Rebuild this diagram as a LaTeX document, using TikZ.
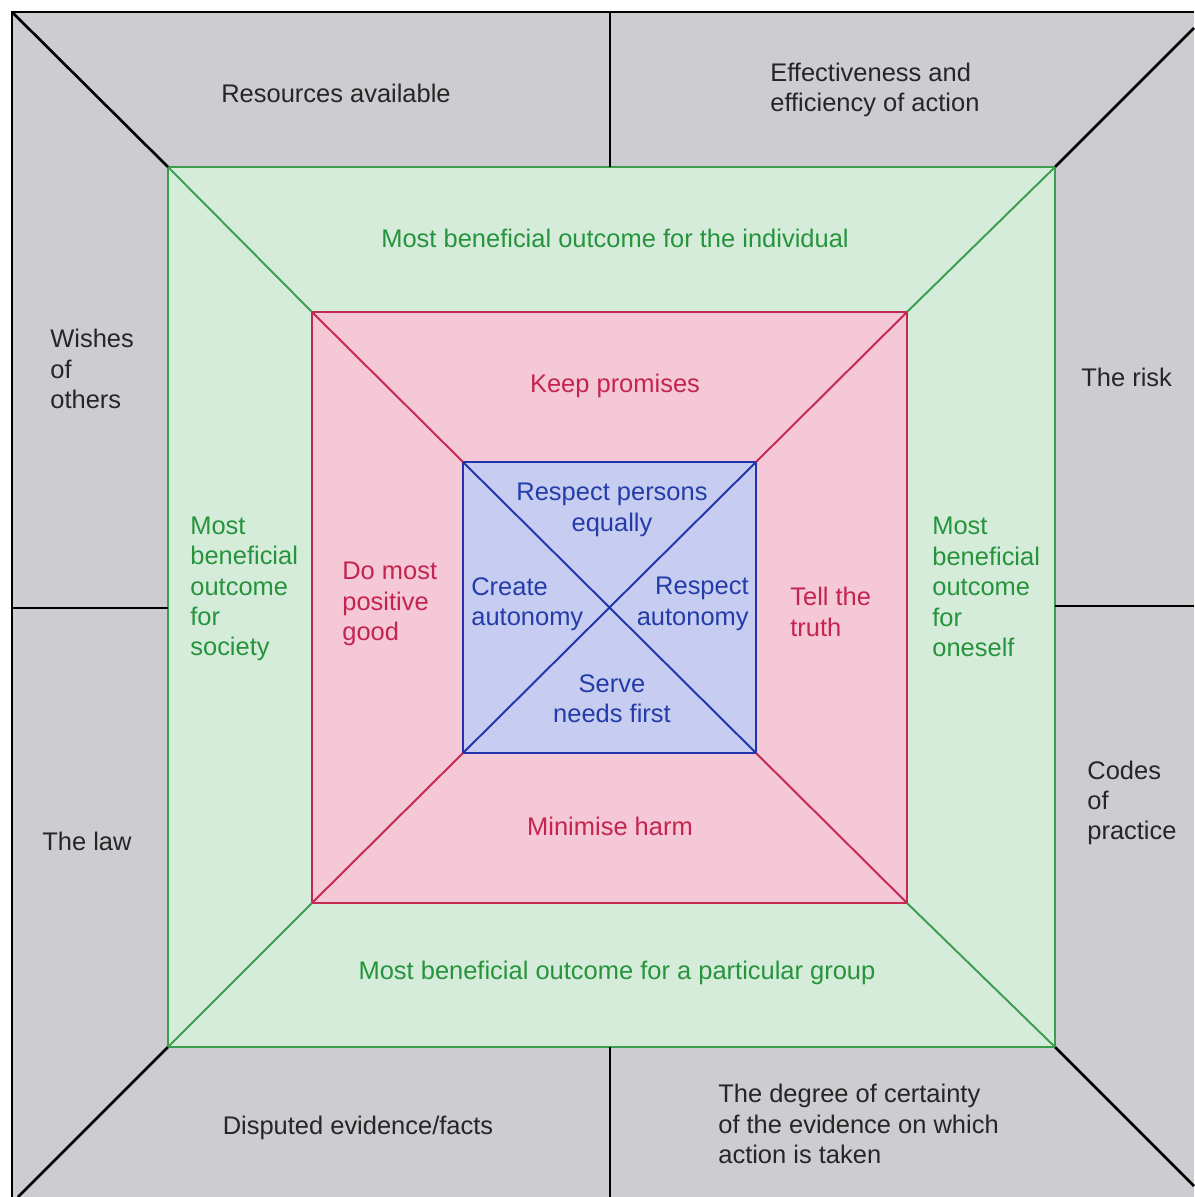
\documentclass[tikz,border=0pt]{standalone}
\usepackage{fontspec}
\setmainfont{Liberation Sans}
\definecolor{gridgray}{RGB}{205,205,209}
\definecolor{gfill}{RGB}{214,236,218}
\definecolor{gline}{RGB}{58,158,78}
\definecolor{gtext}{RGB}{38,148,60}
\definecolor{rfill}{RGB}{244,200,214}
\definecolor{rline}{RGB}{198,40,82}
\definecolor{rtext}{RGB}{196,36,80}
\definecolor{bfill}{RGB}{198,205,240}
\definecolor{bline}{RGB}{32,52,172}
\definecolor{btext}{RGB}{36,60,170}
\tikzset{
  lbl/.style={inner sep=0pt,font=\fontsize{14.5}{17.3}\selectfont},
  outlbl/.style={lbl,text=black!85},
  grlbl/.style={lbl,text=gtext},
  rdlbl/.style={lbl,text=rtext},
  bllbl/.style={lbl,text=btext}
}
\begin{document}
\begin{tikzpicture}[x=0.02cm,y=-0.02cm]
\useasboundingbox (0,0) rectangle (1194,1197);
\pgfmathsetmacro{\ow}{1.5}
\pgfmathsetmacro{\iw}{1.1}
% outer frame
\fill[gridgray] (12,12) rectangle (1194,1197);
\draw[line width=\ow pt] (1194,12) -- (12,12) -- (12,1197);
\coordinate (o1) at (12,12);
\coordinate (o2) at (1194,28);
\coordinate (o3) at (1194,1186);
\coordinate (o4) at (18,1197);
% nested squares
\coordinate (g1) at (168,167);
\coordinate (g2) at (1055,167);
\coordinate (g3) at (1055,1047);
\coordinate (g4) at (168,1047);
\coordinate (r1) at (312,312);
\coordinate (r2) at (907,312);
\coordinate (r3) at (907,903);
\coordinate (r4) at (312,903);
\coordinate (b1) at (463,462);
\coordinate (b2) at (756,462);
\coordinate (b3) at (756,753);
\coordinate (b4) at (463,753);
\filldraw[fill=gfill,draw=gline,line width=\iw pt](g1) rectangle (g3);
\filldraw[fill=rfill,draw=rline,line width=\iw pt](r1) rectangle (r3);
\filldraw[fill=bfill,draw=bline,line width=\iw pt](b1) rectangle (b3);
\foreach \i in {1,2,3,4}{
  \draw[line width=\ow pt](o\i)--(g\i);
  \draw[gline,line width=\iw pt](g\i)--(r\i);
  \draw[rline,line width=\iw pt](r\i)--(b\i);
}
\draw[bline,line width=\iw pt](b1)--(b3) (b2)--(b4);
% dividers
\draw[line width=\ow pt](610,12)--(610,167);
\draw[line width=\ow pt](610,1047)--(610,1197);
\draw[line width=\ow pt](12,608)--(168,608);
\draw[line width=\ow pt](1055,606)--(1194,606);
% outer labels
\node[outlbl] (res) at (336,93) {Resources available};
\node[outlbl,align=left,anchor=west] (eff) at (770,90) {Effectiveness and\\efficiency of action};
\node[outlbl,align=left,anchor=west] (wish) at (50,369) {Wishes\\of\\others};
\node[outlbl,anchor=west] (risk) at (1081,377) {The risk};
\node[outlbl,anchor=west] (law) at (42,841) {The law};
\node[outlbl,align=left,anchor=west] (codes) at (1087,803) {Codes\\of\\practice};
\node[outlbl] (disp) at (358,1128) {Disputed evidence/facts};
\node[outlbl,align=left,anchor=west] (cert) at (718,1124) {The degree of certainty\\of the evidence on which\\action is taken};
% green labels
\node[grlbl] (indiv) at (615,238) {Most beneficial outcome for the individual};
\node[grlbl,align=left,anchor=west] (soc) at (190,589) {Most\\beneficial\\outcome\\for\\society};
\node[grlbl,align=left,anchor=west] (self) at (932,587) {Most\\beneficial\\outcome\\for\\oneself};
\node[grlbl] (group) at (617,973) {Most beneficial outcome for a particular group};
% red labels
\node[rdlbl] (keep) at (615,386) {Keep promises};
\node[rdlbl,align=left,anchor=west] (good) at (342,604) {Do most\\positive\\good};
\node[rdlbl,align=left,anchor=west] (truth) at (790,612) {Tell the\\truth};
\node[rdlbl] (harm) at (610,826) {Minimise harm};
% blue labels
\node[bllbl,align=center] (equal) at (612,510) {Respect persons\\equally};
\node[bllbl,align=left,anchor=west] (create) at (471,604) {Create\\autonomy};
\node[bllbl,align=right,anchor=east] (respect) at (749,604) {Respect\\autonomy};
\node[bllbl,align=center] (serve) at (612,699) {Serve\\needs first};
\end{tikzpicture}
\end{document}
